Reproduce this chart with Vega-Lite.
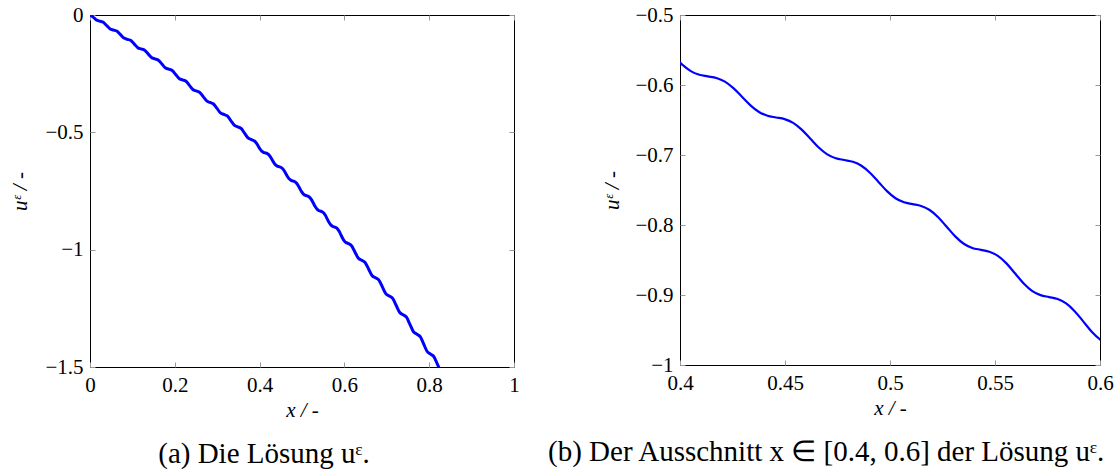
{
  "$schema": "https://vega.github.io/schema/vega-lite/v6.json",
  "padding": {"left": 9, "top": 3, "right": 0, "bottom": 0},
  "background": "white",
  "config": {
    "font": "Liberation Serif",
    "view": {"stroke": "black", "strokeWidth": 1},
    "axis": {
      "labelFont": "Liberation Serif", "labelFontSize": 21, "labelColor": "black",
      "titleFont": "Liberation Serif", "titleFontSize": 21, "titleFontWeight": "normal",
      "titleFontStyle": "italic", "titleColor": "black",
      "grid": false, "domain": false, "tickColor": "#999999", "tickSize": -5, "tickWidth": 1,
      "labelPadding": 12, "labelFlush": false, "labelOverlap": false, "format": "~g"
    },
    "title": {"orient": "bottom", "font": "Liberation Serif", "fontSize": 29, "fontWeight": "normal", "color": "black", "offset": 20, "frame": "group"}
  },
  "datasets": {
    "u": [
      {"x": 0, "u": 0},
      {"x": 0.007, "u": -0.0079}, {"x": 0.015125, "u": -0.02148}, {"x": 0.02325, "u": -0.02635}, {"x": 0.031375, "u": -0.03123},
      {"x": 0.0395, "u": -0.04518}, {"x": 0.047625, "u": -0.05929}, {"x": 0.05575, "u": -0.06434}, {"x": 0.063875, "u": -0.06939},
      {"x": 0.072, "u": -0.08385}, {"x": 0.080125, "u": -0.09849}, {"x": 0.08825, "u": -0.10373}, {"x": 0.096375, "u": -0.10897},
      {"x": 0.1045, "u": -0.12396}, {"x": 0.112625, "u": -0.13914}, {"x": 0.12075, "u": -0.14457}, {"x": 0.128875, "u": -0.15001},
      {"x": 0.137, "u": -0.16556}, {"x": 0.145125, "u": -0.1813}, {"x": 0.15325, "u": -0.18693}, {"x": 0.161375, "u": -0.19256},
      {"x": 0.1695, "u": -0.2087}, {"x": 0.177625, "u": -0.22502}, {"x": 0.18575, "u": -0.23087}, {"x": 0.193875, "u": -0.23672},
      {"x": 0.202, "u": -0.25345}, {"x": 0.210125, "u": -0.27039}, {"x": 0.21825, "u": -0.27645}, {"x": 0.226375, "u": -0.28251},
      {"x": 0.2345, "u": -0.29987}, {"x": 0.242625, "u": -0.31744}, {"x": 0.25075, "u": -0.32372}, {"x": 0.258875, "u": -0.33001},
      {"x": 0.267, "u": -0.34801}, {"x": 0.275125, "u": -0.36624}, {"x": 0.28325, "u": -0.37275}, {"x": 0.291375, "u": -0.37927},
      {"x": 0.2995, "u": -0.39794}, {"x": 0.307625, "u": -0.41684}, {"x": 0.31575, "u": -0.4236}, {"x": 0.323875, "u": -0.43036},
      {"x": 0.332, "u": -0.44972}, {"x": 0.340125, "u": -0.46932}, {"x": 0.34825, "u": -0.47633}, {"x": 0.356375, "u": -0.48334},
      {"x": 0.3645, "u": -0.50341}, {"x": 0.372625, "u": -0.52372}, {"x": 0.38075, "u": -0.53099}, {"x": 0.388875, "u": -0.53826},
      {"x": 0.3929375, "u": -0.54722}, {"x": 0.397, "u": -0.55907}, {"x": 0.4010625, "u": -0.57096}, {"x": 0.405125, "u": -0.58011},
      {"x": 0.4091875, "u": -0.58531}, {"x": 0.41325, "u": -0.58765}, {"x": 0.4173125, "u": -0.58999}, {"x": 0.421375, "u": -0.59518},
      {"x": 0.4254375, "u": -0.60449}, {"x": 0.4295, "u": -0.61675}, {"x": 0.4335625, "u": -0.62908}, {"x": 0.437625, "u": -0.63856},
      {"x": 0.4416875, "u": -0.64393}, {"x": 0.44575, "u": -0.64637}, {"x": 0.4498125, "u": -0.64879}, {"x": 0.453875, "u": -0.65418},
      {"x": 0.4579375, "u": -0.66382}, {"x": 0.462, "u": -0.67651}, {"x": 0.4660625, "u": -0.6893}, {"x": 0.470125, "u": -0.69912},
      {"x": 0.4741875, "u": -0.70468}, {"x": 0.47825, "u": -0.7072}, {"x": 0.4823125, "u": -0.70971}, {"x": 0.486375, "u": -0.71529},
      {"x": 0.4904375, "u": -0.72527}, {"x": 0.4945, "u": -0.73843}, {"x": 0.4985625, "u": -0.75166}, {"x": 0.502625, "u": -0.76184},
      {"x": 0.5066875, "u": -0.76761}, {"x": 0.51075, "u": -0.77021}, {"x": 0.5148125, "u": -0.7728}, {"x": 0.518875, "u": -0.77859},
      {"x": 0.5229375, "u": -0.78892}, {"x": 0.527, "u": -0.80255}, {"x": 0.5310625, "u": -0.81626}, {"x": 0.535125, "u": -0.8268},
      {"x": 0.5391875, "u": -0.83276}, {"x": 0.54325, "u": -0.83546}, {"x": 0.5473125, "u": -0.83815}, {"x": 0.551375, "u": -0.84414},
      {"x": 0.5554375, "u": -0.85484}, {"x": 0.5595, "u": -0.86894}, {"x": 0.5635625, "u": -0.88313}, {"x": 0.567625, "u": -0.89403},
      {"x": 0.5716875, "u": -0.90021}, {"x": 0.57575, "u": -0.903}, {"x": 0.5798125, "u": -0.90578}, {"x": 0.583875, "u": -0.91199},
      {"x": 0.5879375, "u": -0.92306}, {"x": 0.592, "u": -0.93766}, {"x": 0.5960625, "u": -0.95233}, {"x": 0.600125, "u": -0.96363},
      {"x": 0.6041875, "u": -0.97001}, {"x": 0.60825, "u": -0.97291}, {"x": 0.616375, "u": -0.9822}, {"x": 0.6245, "u": -1.00876},
      {"x": 0.632625, "u": -1.03563}, {"x": 0.64075, "u": -1.04523}, {"x": 0.648875, "u": -1.05484}, {"x": 0.657, "u": -1.08231},
      {"x": 0.665125, "u": -1.11009}, {"x": 0.67325, "u": -1.12002}, {"x": 0.681375, "u": -1.12995}, {"x": 0.6895, "u": -1.15836},
      {"x": 0.697625, "u": -1.18709}, {"x": 0.70575, "u": -1.19735}, {"x": 0.713875, "u": -1.20763}, {"x": 0.722, "u": -1.23699},
      {"x": 0.730125, "u": -1.26667}, {"x": 0.73825, "u": -1.27728}, {"x": 0.746375, "u": -1.2879}, {"x": 0.7545, "u": -1.31824},
      {"x": 0.762625, "u": -1.34891}, {"x": 0.77075, "u": -1.35987}, {"x": 0.778875, "u": -1.37083}, {"x": 0.787, "u": -1.40217},
      {"x": 0.795125, "u": -1.43385}, {"x": 0.80325, "u": -1.44517}, {"x": 0.811375, "u": -1.45649}, {"x": 0.8195, "u": -1.48885},
      {"x": 0.827625, "u": -1.52157}
    ]
  },
  "bounds": "flush",
  "spacing": 166,
  "hconcat": [
    {
      "width": 424, "height": 352,
      "title": {"text": "(a) Die Lösung uᵋ.", "anchor": "middle", "dx": -38},
      "data": {"name": "u"},
      "layer": [
        {
          "mark": {"type": "line", "color": "#0000ff", "strokeWidth": 3, "interpolate": "monotone", "clip": true},
          "encoding": {
            "x": {"field": "x", "type": "quantitative", "scale": {"domain": [0, 1], "nice": false, "zero": false},
                  "axis": {"values": [0, 0.2, 0.4, 0.6, 0.8, 1], "title": "x / -", "orient": "bottom", "labelFont": "Liberation Serif", "titleFont": "Liberation Serif"}},
            "y": {"field": "u", "type": "quantitative", "scale": {"domain": [-1.5, 0], "nice": false, "zero": false},
                  "axis": {"values": [-1.5, -1, -0.5, 0], "title": "uᵋ / -", "orient": "left", "titlePadding": 14, "labelFont": "Liberation Serif", "titleFont": "Liberation Serif"}}
          }
        },
        {
          "mark": {"type": "line", "strokeOpacity": 0, "clip": true},
          "encoding": {
            "x": {"field": "x", "type": "quantitative", "scale": {"domain": [0, 1], "nice": false, "zero": false},
                  "axis": {"values": [0, 0.2, 0.4, 0.6, 0.8, 1], "title": null, "labels": false, "orient": "top"}},
            "y": {"field": "u", "type": "quantitative", "scale": {"domain": [-1.5, 0], "nice": false, "zero": false},
                  "axis": {"values": [-1.5, -1, -0.5, 0], "title": null, "labels": false, "orient": "right"}}
          }
        }
      ],
      "resolve": {"axis": {"x": "independent", "y": "independent"}}
    },
    {
      "width": 420, "height": 350,
      "title": {"text": "(b) Der Ausschnitt x ∈ [0.4, 0.6] der Lösung uᵋ.", "anchor": "start", "dx": -132},
      "data": {"name": "u"},
      "transform": [{"filter": "datum.x >= 0.38 && datum.x <= 0.61"}],
      "layer": [
        {
          "mark": {"type": "line", "color": "#0000ff", "strokeWidth": 2.2, "interpolate": "monotone", "clip": true},
          "encoding": {
            "x": {"field": "x", "type": "quantitative", "scale": {"domain": [0.4, 0.6], "nice": false, "zero": false},
                  "axis": {"values": [0.4, 0.45, 0.5, 0.55, 0.6], "title": "x / -", "orient": "bottom", "labelFont": "Liberation Serif", "titleFont": "Liberation Serif"}},
            "y": {"field": "u", "type": "quantitative", "scale": {"domain": [-1, -0.5], "nice": false, "zero": false},
                  "axis": {"values": [-1, -0.9, -0.8, -0.7, -0.6, -0.5], "title": "uᵋ / -", "orient": "left", "titlePadding": 12, "labelFont": "Liberation Serif", "titleFont": "Liberation Serif"}}
          }
        },
        {
          "mark": {"type": "line", "strokeOpacity": 0, "clip": true},
          "encoding": {
            "x": {"field": "x", "type": "quantitative", "scale": {"domain": [0.4, 0.6], "nice": false, "zero": false},
                  "axis": {"values": [0.4, 0.45, 0.5, 0.55, 0.6], "title": null, "labels": false, "orient": "top"}},
            "y": {"field": "u", "type": "quantitative", "scale": {"domain": [-1, -0.5], "nice": false, "zero": false},
                  "axis": {"values": [-1, -0.9, -0.8, -0.7, -0.6, -0.5], "title": null, "labels": false, "orient": "right"}}
          }
        }
      ],
      "resolve": {"axis": {"x": "independent", "y": "independent"}}
    }
  ]
}
